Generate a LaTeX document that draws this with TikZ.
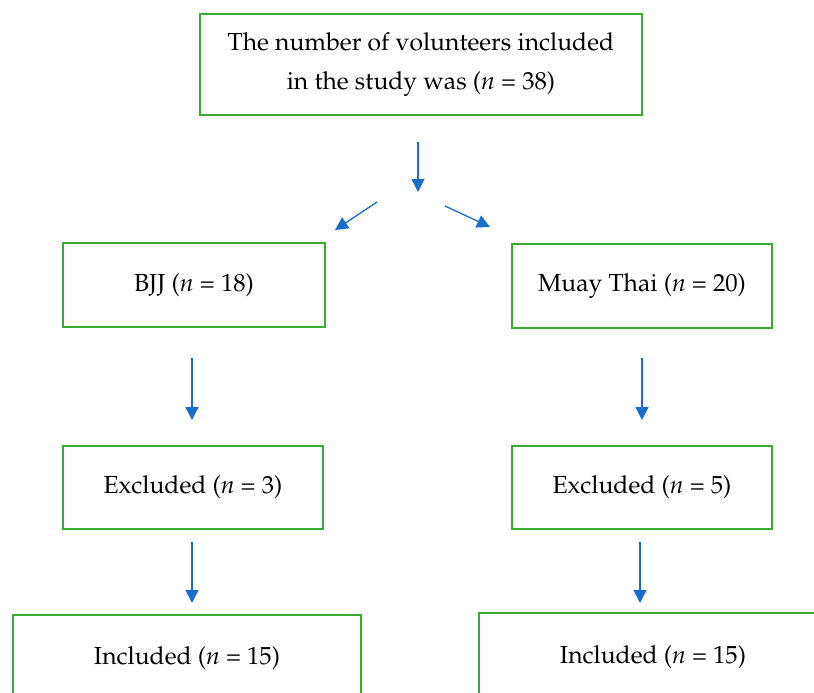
\documentclass[tikz,border=0pt]{standalone}
\usepackage[T1]{fontenc}
\usepackage{mathpazo}
\usetikzlibrary{arrows.meta}
\definecolor{boxgreen}{RGB}{58,170,50}
\definecolor{arrowblue}{RGB}{28,110,205}
\tikzset{
  flowbox/.style={draw=boxgreen, line width=2pt, fill=white, rectangle, align=center,
    inner sep=0pt, font=\fontsize{24.7}{39}\selectfont},
  flowarrow/.style={draw=arrowblue, line width=1.3pt,
    -{Triangle[width=13pt,length=13pt]}, fill=arrowblue}
}
\newcommand{\nn}{\textit{n}}
\begin{document}
\begin{tikzpicture}[x=1pt,y=-1pt]
\useasboundingbox (0,0) rectangle (814,693);
\clip (0,0) rectangle (814,693);
\fill[white] (0,0) rectangle (814,693);
% boxes
\node[flowbox, minimum width=442pt, minimum height=101pt] (top) at (421,64.5)
  {The number of volunteers included\\in the study was (\nn{} = 38)};
\node[flowbox, minimum width=262pt, minimum height=84pt] (bjj) at (194,285) {BJJ (\nn{} = 18)};
\node[flowbox, minimum width=260pt, minimum height=84pt] (muay) at (642,286) {Muay Thai (\nn{} = 20)};
\node[flowbox, minimum width=260pt, minimum height=83pt] (exL) at (193,487.5) {Excluded (\nn{} = 3)};
\node[flowbox, minimum width=260pt, minimum height=83pt] (exR) at (642,487.5) {Excluded (\nn{} = 5)};
\node[flowbox, minimum width=348pt, minimum height=86pt] (inL) at (187,658) {Included (\nn{} = 15)};
\node[flowbox, minimum width=348pt, minimum height=88pt] (inR) at (653,657) {Included (\nn{} = 15)};
% arrow end points
\coordinate (a0s) at (418,142);
\coordinate (a0e) at (418,192);
\coordinate (a1s) at (377,202);
\coordinate (a1e) at (335,230);
\coordinate (a2s) at (445,206);
\coordinate (a2e) at (490,227);
\coordinate (a3s) at (192,358);
\coordinate (a3e) at (192,420);
\coordinate (a4s) at (642,358);
\coordinate (a4e) at (642,420);
\coordinate (a5s) at (192,542);
\coordinate (a5e) at (192,603);
\coordinate (a6s) at (640,542);
\coordinate (a6e) at (640,603);
% arrows
\draw[flowarrow] (a0s) -- (a0e);
\draw[flowarrow] (a1s) -- (a1e);
\draw[flowarrow] (a2s) -- (a2e);
\draw[flowarrow] (a3s) -- (a3e);
\draw[flowarrow] (a4s) -- (a4e);
\draw[flowarrow] (a5s) -- (a5e);
\draw[flowarrow] (a6s) -- (a6e);
\end{tikzpicture}
\end{document}
